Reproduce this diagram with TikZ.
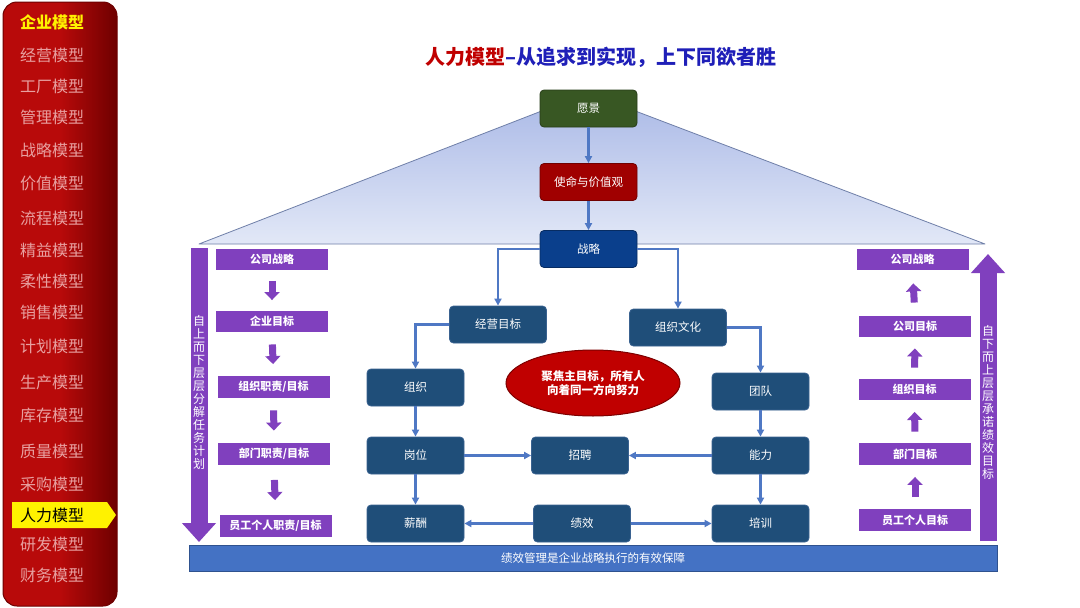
\documentclass[tikz,border=0pt]{standalone}
\usepackage{fontspec}
\setmainfont{Noto Sans CJK SC}
\usetikzlibrary{arrows.meta,shapes.geometric}
\definecolor{sidetxt}{HTML}{E8A0A0}
\definecolor{sidedark}{HTML}{6E0000}
\definecolor{sidemid}{HTML}{B80A0A}
\definecolor{titlered}{HTML}{C00000}
\definecolor{titleblue}{HTML}{1F1FB8}
\definecolor{trifilltop}{HTML}{A9B8E6}
\definecolor{trifillbot}{HTML}{E2E8F7}
\definecolor{triedge}{HTML}{6F7FA8}
\definecolor{visiongreen}{HTML}{385723}
\definecolor{missionred}{HTML}{A00000}
\definecolor{stratblue}{HTML}{0A3F8C}
\definecolor{boxblue}{HTML}{1F4E79}
\definecolor{boxedge}{HTML}{3A6290}
\definecolor{linkblue}{HTML}{4F78C4}
\definecolor{purp}{HTML}{8040BE}
\definecolor{barblue}{HTML}{4472C4}
\definecolor{baredge}{HTML}{2F528F}
\definecolor{ellred}{HTML}{C00000}
\tikzset{
  sidetext/.style={anchor=west, text=sidetxt, font=\fontsize{16}{16}\selectfont, inner sep=0pt},
  basebox/.style={rounded corners=4pt, line width=0.8pt, text=white, minimum width=97pt, minimum height=37pt, inner sep=0pt, font=\fontsize{11.5}{12}\selectfont},
  dbox/.style={basebox, fill=boxblue, draw=boxedge},
  pbox/.style={fill=purp, text=white, minimum width=112pt, minimum height=21.5pt, inner sep=0pt, font=\bfseries\fontsize{11}{11}\selectfont},
  link/.style={draw=linkblue, line width=2.2pt, -{Triangle[length=7pt,width=7pt]}},
  sarr/.style={draw=purp, line width=7pt, -{Triangle[length=8pt,width=15pt]}, shorten <=#1, shorten >=#1},
  bigarr/.style={draw=purp, line width=17pt, -{Triangle[length=19pt,width=33pt]}},
  vtext/.style={text=white, align=center, font=\fontsize{12}{13}\selectfont, inner sep=0pt},
}
\begin{document}
\begin{tikzpicture}[x=1pt,y=-1pt]
\useasboundingbox (0,0) rectangle (1080,608);
\fill[white] (0,0) rectangle (1080,608);
% sidebar
\shade[rounded corners=14pt, left color=sidemid, right color=sidedark, middle color=sidemid] (3,2) rectangle (117,606);
\draw[rounded corners=14pt, draw=sidedark, line width=1pt] (3,2) rectangle (117,606);
\node[anchor=west, text=yellow, font=\bfseries\fontsize{16}{16}\selectfont, inner sep=0pt] (s0) at (20,22) {企业模型};
\node[sidetext] (s1) at (20,55) {经营模型};
\node[sidetext] (s2) at (20,86) {工厂模型};
\node[sidetext] (s3) at (20,117) {管理模型};
\node[sidetext] (s4) at (20,150) {战略模型};
\node[sidetext] (s5) at (20,183) {价值模型};
\node[sidetext] (s6) at (20,218) {流程模型};
\node[sidetext] (s7) at (20,250) {精益模型};
\node[sidetext] (s8) at (20,281) {柔性模型};
\node[sidetext] (s9) at (20,312) {销售模型};
\node[sidetext] (s10) at (20,346) {计划模型};
\node[sidetext] (s11) at (20,382) {生产模型};
\node[sidetext] (s12) at (20,415) {库存模型};
\node[sidetext] (s13) at (20,451) {质量模型};
\node[sidetext] (s14) at (20,484) {采购模型};
\fill[yellow] (12,502) -- (107,502) -- (116,515) -- (107,528) -- (12,528) -- cycle;
\node[sidetext, text=black] (s15) at (20,515) {人力模型};
\node[sidetext] (s16) at (20,544) {研发模型};
\node[sidetext] (s17) at (20,575) {财务模型};
% title
\node[font=\bfseries\fontsize{20}{20}\selectfont, inner sep=0pt] (title) at (601,57) {\textcolor{titlered}{人力模型}\textcolor{titleblue}{–从追求到实现，上下同欲者胜}};
% triangle roof
\shade[top color=trifilltop, bottom color=trifillbot] (199,244) -- (588,93) -- (985,244) -- cycle;
\draw[triedge, line width=0.8pt, line join=round] (199,244) -- (588,93) -- (985,244) -- cycle;
% centre boxes
\node[basebox, fill=visiongreen, draw=visiongreen!70!black] (vision) at (588.5,108.5) {愿景};
\node[basebox, fill=missionred, draw=missionred!70!black] (mission) at (588.5,182) {使命与价值观};
\node[basebox, fill=stratblue, draw=stratblue!70!black] (strat) at (588.5,249) {战略};
\node[dbox] (goal) at (498,324.5) {经营目标};
\node[dbox] (culture) at (678,327.5) {组织文化};
\node[dbox] (org) at (415.5,387.5) {组织};
\node[dbox] (team) at (760.5,391.5) {团队};
\node[dbox] (post) at (415.5,455.5) {岗位};
\node[dbox] (recruit) at (580,455.5) {招聘};
\node[dbox] (ability) at (760.5,455.5) {能力};
\node[dbox] (pay) at (415.5,523.5) {薪酬};
\node[dbox] (perf) at (582,523.5) {绩效};
\node[dbox] (train) at (760.5,523.5) {培训};
\node[ellipse, fill=ellred, draw=ellred!65!black, line width=1pt, minimum width=174pt, minimum height=66pt, inner sep=0pt, text=white, align=center, font=\bfseries\fontsize{11.5}{14.5}\selectfont] (focus) at (593,383) {聚焦主目标，所有人\\向着同一方向努力};
% links
\draw[link] (vision) -- (mission);
\draw[link] (mission) -- (strat);
\draw[link] (strat.west) -| (goal.north);
\draw[link] (strat.east) -| (culture.north);
\draw[link] (goal.west) -| (org.north);
\draw[link] (culture.east) -| (team.north);
\draw[link] (org) -- (post);
\draw[link] (team) -- (ability);
\draw[link] (post) -- (recruit);
\draw[link] (ability) -- (recruit);
\draw[link] (post) -- (pay);
\draw[link] (ability) -- (train);
\draw[link] (perf) -- (pay);
\draw[link] (perf) -- (train);
% left column
\node[pbox] (l1) at (272,259.5) {公司战略};
\node[pbox] (l2) at (272,321.5) {企业目标};
\node[pbox] (l3) at (273.5,387) {组织职责/目标};
\node[pbox] (l4) at (274,454) {部门职责/目标};
\node[pbox] (l5) at (275.5,526) {员工个人职责/目标};
\draw[sarr=10.5pt] (l1.south) -- (l2.north);
\draw[sarr=12pt] (l2.south) -- (l3.north);
\draw[sarr=12.5pt] (l3.south) -- (l4.north);
\draw[sarr=15pt] (l4.south) -- (l5.north);
% right column
\node[pbox] (r1) at (912.5,259.5) {公司战略};
\node[pbox] (r2) at (915,326.5) {公司目标};
\node[pbox] (r3) at (914.5,389.5) {组织目标};
\node[pbox] (r4) at (915,454) {部门目标};
\node[pbox] (r5) at (915,520) {员工个人目标};
\draw[sarr=13pt] (r2.north) -- (r1.south);
\draw[sarr=11pt] (r3.north) -- (r2.south);
\draw[sarr=11.5pt] (r4.north) -- (r3.south);
\draw[sarr=12pt] (r5.north) -- (r4.south);
% big arrows
\coordinate (ltop) at (199,248);
\coordinate (lbot) at (199,542);
\draw[bigarr] (ltop) -- (lbot);
\node[vtext] (ltext) at (199,392) {自\\上\\而\\下\\层\\层\\分\\解\\任\\务\\计\\划};
\coordinate (rbot) at (988,541);
\coordinate (rtop) at (988,254);
\draw[bigarr] (rbot) -- (rtop);
\node[vtext] (rtext) at (988,402) {自\\下\\而\\上\\层\\层\\承\\诺\\绩\\效\\目\\标};
% bottom bar
\node[fill=barblue, draw=baredge, line width=1pt, minimum width=808pt, minimum height=26pt, inner sep=0pt, text=white, font=\fontsize{11.5}{12}\selectfont] (bar) at (593,558) {绩效管理是企业战略执行的有效保障};
\end{tikzpicture}
\end{document}
